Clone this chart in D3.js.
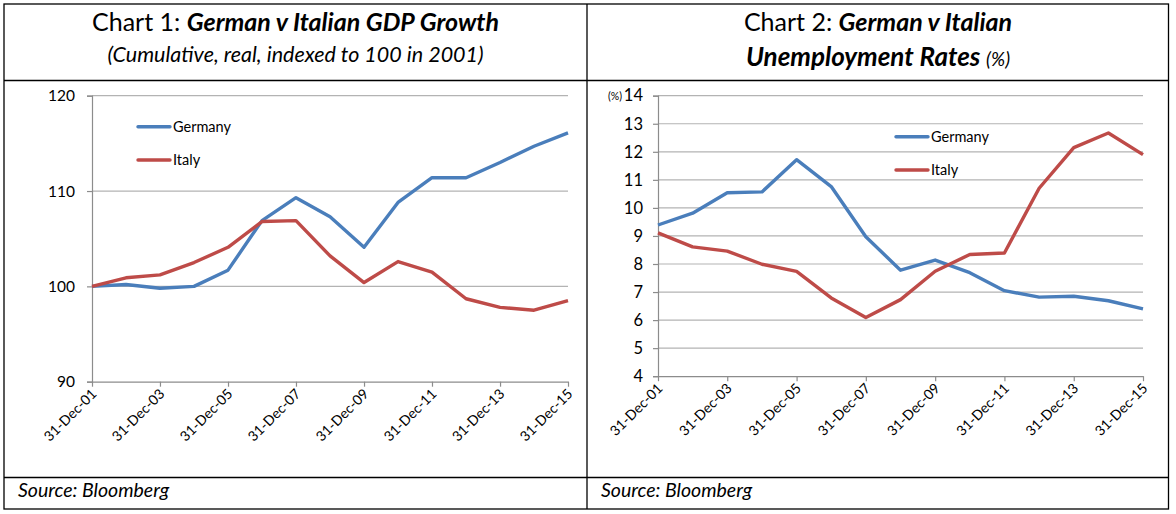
<!DOCTYPE html>
<html>
<head>
<meta charset="utf-8">
<script src="https://cdn.jsdelivr.net/npm/d3@7/dist/d3.min.js"></script>
<style>
  body { margin: 0; background: #fff; }
  text { font-family: Lato, "Liberation Sans", sans-serif; fill: #000; }
</style>
</head>
<body>
<svg id="chart" width="1176" height="514"></svg>
<script>
// Year-end observation dates
var dates = ["2001-12-31", "2002-12-31", "2003-12-31", "2004-12-31", "2005-12-31",
             "2006-12-31", "2007-12-31", "2008-12-31", "2009-12-31", "2010-12-31",
             "2011-12-31", "2012-12-31", "2013-12-31", "2014-12-31", "2015-12-31"];

// Chart 1: real GDP, indexed to 100 in 2001
var gdpGermany = [100, 100.2, 99.8, 100.0, 101.7, 106.9, 109.3, 107.3, 104.1, 108.8, 111.4, 111.4, 113.0, 114.7, 116.1];
var gdpItaly   = [100, 100.9, 101.2, 102.5, 104.1, 106.8, 106.9, 103.2, 100.4, 102.6, 101.5, 98.7, 97.8, 97.5, 98.5];
var gdpTicks   = [90, 100, 110, 120];

// Chart 2: unemployment rate (%)
var unempGermany = [9.39, 9.81, 10.54, 10.57, 11.72, 10.76, 8.97, 7.78, 8.14, 7.69, 7.05, 6.82, 6.85, 6.69, 6.40];
var unempItaly   = [9.11, 8.61, 8.46, 7.99, 7.74, 6.79, 6.09, 6.73, 7.74, 8.34, 8.39, 10.70, 12.15, 12.67, 11.90];
var unempTicks   = [4, 5, 6, 7, 8, 9, 10, 11, 12, 13, 14];

// x tick labels every second year
var xTickDates = ["2001-12-31", "2003-12-31", "2005-12-31", "2007-12-31",
                  "2009-12-31", "2011-12-31", "2013-12-31", "2015-12-31"];

var seriesNames = ["Germany", "Italy"];
var colors = { Germany: "#4a7ebb", Italy: "#be4b48" };

var parse = d3.utcParse("%Y-%m-%d");
var fmt = d3.utcFormat("%d-%b-%y");

var svg = d3.select("#chart");
svg.append("rect").attr("width", 1176).attr("height", 514).attr("fill", "#fff");

// Frame of the two-panel table
var frame = svg.append("g").attr("stroke", "#000").attr("stroke-width", 1.3).attr("fill", "none");
frame.append("rect").attr("x", 4).attr("y", 4).attr("width", 1164.5).attr("height", 505);
frame.append("line").attr("x1", 587).attr("x2", 587).attr("y1", 4).attr("y2", 509);
frame.append("line").attr("x1", 4).attr("x2", 1168.5).attr("y1", 80.5).attr("y2", 80.5);
frame.append("line").attr("x1", 4).attr("x2", 1168.5).attr("y1", 477.5).attr("y2", 477.5);

function lineChart(cfg) {
  var g = svg.append("g");
  var x = d3.scaleUtc()
      .domain([parse(dates[0]), parse(dates[dates.length - 1])])
      .range([cfg.left, cfg.right]);
  var y = d3.scaleLinear().domain(cfg.yDomain).range([cfg.bottom, cfg.top]);

  // Gridlines
  g.append("g").selectAll("line")
      .data(cfg.yTicks.slice(1))
    .enter().append("line")
      .attr("x1", cfg.left).attr("x2", cfg.right)
      .attr("y1", function(d){ return y(d); }).attr("y2", function(d){ return y(d); })
      .attr("stroke", "#b3b3b3").attr("stroke-width", 1.2);

  // Y axis
  var yAxis = g.append("g")
      .attr("transform", "translate(" + cfg.left + ",0)")
      .call(d3.axisLeft(y).tickValues(cfg.yTicks).tickSize(5).tickPadding(cfg.yPad));
  yAxis.select(".domain").attr("stroke", "#8c8c8c").attr("stroke-width", 1.2);
  yAxis.selectAll(".tick line").attr("stroke", "#8c8c8c").attr("stroke-width", 1.2);
  yAxis.selectAll(".tick text")
      .attr("font-size", cfg.yFont).attr("font-family", "Lato, sans-serif").attr("fill", "#000");

  if (cfg.unit) {
    g.append("text")
        .attr("x", cfg.left - 36).attr("y", y(cfg.yDomain[1]) + 4)
        .attr("text-anchor", "end").attr("font-size", 10.5).text(cfg.unit);
  }

  // X axis
  var xAxis = g.append("g")
      .attr("transform", "translate(0," + cfg.bottom + ")")
      .call(d3.axisBottom(x).tickValues(xTickDates.map(parse)).tickFormat(fmt).tickSize(5).tickSizeOuter(0));
  xAxis.select(".domain").attr("stroke", "#8c8c8c").attr("stroke-width", 1.2);
  xAxis.selectAll(".tick line").attr("stroke", "#8c8c8c").attr("stroke-width", 1.2);
  xAxis.selectAll(".tick text")
      .attr("font-size", 14).attr("font-family", "Lato, sans-serif").attr("fill", "#000")
      .attr("text-anchor", "end")
      .attr("dy", null).attr("y", 0)
      .attr("transform", "translate(5,13) rotate(-45)");

  // Lines
  var line = d3.line()
      .x(function(d, i){ return x(parse(dates[i])); })
      .y(function(d){ return y(d); });
  cfg.series.forEach(function(s) {
    g.append("path")
        .datum(s.values)
        .attr("fill", "none")
        .attr("stroke", colors[s.name])
        .attr("stroke-width", 3.4)
        .attr("stroke-linejoin", "round")
        .attr("d", line);
  });

  // Legend
  var leg = g.selectAll("g.legend")
      .data(seriesNames)
    .enter().append("g")
      .attr("class", "legend")
      .attr("transform", function(d, i){ return "translate(" + cfg.legendX + "," + (cfg.legendY + i * cfg.legendStep) + ")"; });
  leg.append("line")
      .attr("x1", 0).attr("x2", 32)
      .attr("stroke", function(d){ return colors[d]; })
      .attr("stroke-width", 3.4).attr("stroke-linecap", "round");
  leg.append("text")
      .attr("x", 35).attr("dy", "0.35em")
      .attr("font-size", 14.5)
      .text(function(d){ return d; });
}

// Chart 1
var t1 = svg.append("text").attr("x", 295.5).attr("y", 31).attr("text-anchor", "middle").attr("font-size", 25);
t1.append("tspan").text("Chart 1: ");
t1.append("tspan").attr("font-weight", "bold").attr("font-style", "italic").text("German v Italian GDP Growth");
svg.append("text").attr("x", 295.5).attr("y", 62).attr("text-anchor", "middle")
    .attr("font-size", 21.5).attr("font-style", "italic")
    .text("(Cumulative, real, indexed to 100 in 2001)");

lineChart({
  left: 92, right: 568, top: 95.7, bottom: 381.7,
  yDomain: [90, 120], yTicks: gdpTicks, yFont: 15.5, yPad: 12,
  series: [{ name: "Germany", values: gdpGermany }, { name: "Italy", values: gdpItaly }],
  legendX: 138, legendY: 126.7, legendStep: 33.3
});

// Chart 2
var t2 = svg.append("text").attr("x", 878).attr("y", 31).attr("text-anchor", "middle").attr("font-size", 25);
t2.append("tspan").text("Chart 2: ");
t2.append("tspan").attr("font-weight", "bold").attr("font-style", "italic").text("German v Italian");
var t3 = svg.append("text").attr("x", 878).attr("y", 66).attr("text-anchor", "middle").attr("font-size", 26);
t3.append("tspan").attr("font-weight", "bold").attr("font-style", "italic").text("Unemployment Rates ");
t3.append("tspan").attr("font-style", "italic").attr("font-size", 19).text("(%)");

lineChart({
  left: 658, right: 1143, top: 95.7, bottom: 376.2,
  yDomain: [4, 14], yTicks: unempTicks, yFont: 16.5, yPad: 10,
  unit: "(%)",
  series: [{ name: "Germany", values: unempGermany }, { name: "Italy", values: unempItaly }],
  legendX: 896, legendY: 136.7, legendStep: 33.3
});

// Footers
svg.append("text").attr("x", 18).attr("y", 497).attr("font-size", 19.5).attr("font-style", "italic").text("Source: Bloomberg");
svg.append("text").attr("x", 601).attr("y", 497).attr("font-size", 19.5).attr("font-style", "italic").text("Source: Bloomberg");
</script>
</body>
</html>
